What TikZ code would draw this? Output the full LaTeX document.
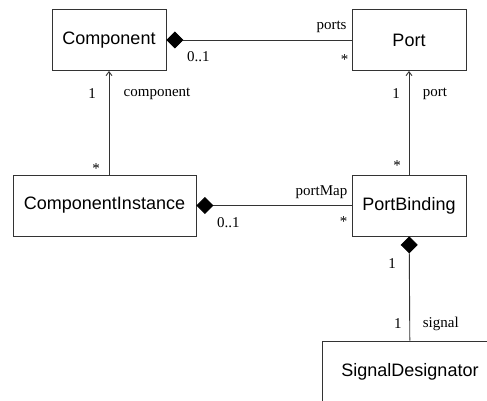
\documentclass[tikz,border=0pt]{standalone}
\usepackage{fontspec}
\setmainfont{Liberation Serif}
\newfontfamily\classfont{Liberation Sans}
\usetikzlibrary{arrows.meta}

\begin{document}
\begin{tikzpicture}[x=1pt, y=-1pt]
    \tikzset{
        classbox/.style={rectangle, draw=black!80, line width=0.9pt,
            minimum width=114pt, minimum height=61pt, inner sep=0pt,
            font=\classfont\fontsize{18}{22}\selectfont},
        role/.style={font=\fontsize{15}{18}\selectfont, inner sep=0pt},
        assoc/.style={draw=black!80, line width=0.9pt},
        compose/.style={assoc, {Diamond[length=17pt, width=17pt, color=black]}-},
        navig/.style={assoc, -{Straight Barb[length=4pt, width=6pt]}}
    }
    \useasboundingbox (0,0) rectangle (487,401);
    \clip (0,0) rectangle (487,401);
    \node[classbox] (cmp) at (109,40) {Component};
    \node[classbox] (port) at (409,40) {Port};
    \node[classbox, minimum width=183pt] (ci) at (104.5,205.5) {ComponentInstance};
    \node[classbox] (pb) at (409,205.5) {PortBinding};
    \node[classbox, minimum width=176pt] (sd) at (410,371.5) {SignalDesignator};
    \draw[compose] (cmp) -- node[role, pos=0, xshift=32pt, yshift=-17pt] {0..1}
        node[role, pos=1, xshift=-20pt, yshift=13pt] {ports}
        node[role, pos=1, xshift=-7pt, yshift=-20pt] {*} (port);
    \draw[navig] (ci.north -| cmp.south) -- node[role, pos=0, xshift=-13pt, yshift=6pt] {*}
        node[role, pos=1, xshift=-17pt, yshift=-23pt] {1}
        node[role, pos=1, xshift=48pt, yshift=-23pt] {component} (cmp);
    \draw[navig] (pb) -- node[role, pos=0, xshift=-12pt, yshift=8.5pt] {*}
        node[role, pos=1, xshift=-13pt, yshift=-23pt] {1}
        node[role, pos=1, xshift=26pt, yshift=-23pt] {port} (port);
    \draw[compose] (ci) -- node[role, pos=0, xshift=32pt, yshift=-17pt] {0..1}
        node[role, pos=1, xshift=-30pt, yshift=13pt] {portMap}
        node[role, pos=1, xshift=-8pt, yshift=-16pt] {*} (pb);
    \draw[compose] (pb) -- node[role, pos=0, xshift=-17pt, yshift=-27pt] {1}
        node[role, pos=1, xshift=-12pt, yshift=17pt] {1}
        node[role, pos=1, xshift=31pt, yshift=17pt] {signal} (sd);
\end{tikzpicture}
\end{document}
